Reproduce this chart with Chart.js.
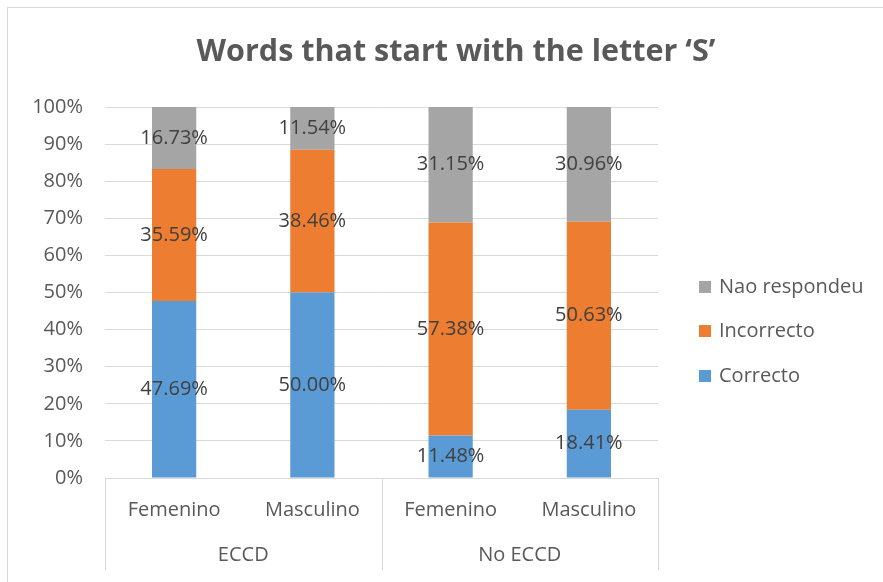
<!DOCTYPE html>
<html>
<head>
<meta charset="utf-8">
<script src="https://cdn.jsdelivr.net/npm/chart.js@4"></script>
<style>
  html, body { margin: 0; padding: 0; background: #fff; overflow: hidden; }
  canvas { display: block; }
</style>
</head>
<body>
<canvas id="wordsChart" width="883" height="582"></canvas>
<script>
// --- Data ---
const categories = ["Femenino", "Masculino", "Femenino", "Masculino"];
const groups = ["ECCD", "No ECCD"];
const seriesNames = ["Correcto", "Incorrecto", "Nao respondeu"];
const correcto = [47.69, 50.00, 11.48, 18.41];
const incorrecto = [35.59, 38.46, 57.38, 50.63];
const naoRespondeu = [16.73, 11.54, 31.15, 30.96];
const yTickStep = 10;

const colors = ["#5b9bd5", "#ed7d31", "#a5a5a5"];
const textColor = "#595959";
const lineColor = "#d9d9d9";
const fontFamily = "'Open Sans', 'Liberation Sans', sans-serif";

// --- Extra drawing: frame, title, data labels, group axis, legend ---
const decorations = {
  id: "decorations",
  beforeDraw(chart) {
    const c = chart.ctx;
    c.save();
    c.fillStyle = "#fff";
    c.fillRect(0, 0, chart.width, chart.height);
    c.strokeStyle = lineColor;
    c.lineWidth = 1;
    c.strokeRect(7.5, 7.5, 1000, 1000);
    c.restore();
  },
  afterDraw(chart) {
    const c = chart.ctx;
    const area = chart.chartArea;
    const x = chart.scales.x;
    c.save();

    // title
    c.fillStyle = textColor;
    c.font = "bold 30.5px " + fontFamily;
    c.textAlign = "center";
    c.textBaseline = "middle";
    c.fillText("Words that start with the letter \u2018S\u2019", 456, 52);

    // value labels in the middle of each segment
    c.font = "20px " + fontFamily;
    c.fillStyle = "#404040";
    chart.data.datasets.forEach((ds, i) => {
      chart.getDatasetMeta(i).data.forEach((bar, j) => {
        const yMid = (bar.y + bar.base) / 2;
        c.fillText(ds.data[j].toFixed(2) + "%", bar.x, yMid);
      });
    });

    // group separators and group names under the categories
    const half = (x.getPixelForValue(1) - x.getPixelForValue(0)) / 2;
    c.strokeStyle = lineColor;
    c.lineWidth = 1;
    const bounds = [area.left, x.getPixelForValue(1) + half, area.right];
    bounds.forEach(px => {
      const xx = Math.round(px) + 0.5;
      c.beginPath();
      c.moveTo(xx, area.bottom);
      c.lineTo(xx, 570);
      c.stroke();
    });
    c.fillStyle = textColor;
    c.font = "20px " + fontFamily;
    groups.forEach((g, i) => {
      c.fillText(g, (bounds[i] + bounds[i + 1]) / 2, 555);
    });

    // legend, top entry is the top of the stack
    const legendY = [287, 331, 376];
    c.textAlign = "left";
    seriesNames.slice().reverse().forEach((name, i) => {
      const col = colors[seriesNames.length - 1 - i];
      c.fillStyle = col;
      c.fillRect(699, legendY[i] - 6, 12, 12);
      c.fillStyle = textColor;
      c.fillText(name, 719, legendY[i]);
    });
    c.restore();
  }
};

const ctx = document.getElementById("wordsChart").getContext("2d");
const chart = new Chart(ctx, {
  type: "bar",
  data: {
    labels: categories,
    datasets: [
      { label: seriesNames[0], data: correcto, backgroundColor: colors[0] },
      { label: seriesNames[1], data: incorrecto, backgroundColor: colors[1] },
      { label: seriesNames[2], data: naoRespondeu, backgroundColor: colors[2] }
    ]
  },
  options: {
    responsive: false,
    animation: false,
    layout: { padding: { left: 0, right: 225, top: 107, bottom: 0 } },
    datasets: { bar: { barPercentage: 0.32, categoryPercentage: 1 } },
    plugins: {
      legend: { display: false },
      title: { display: false },
      tooltip: { enabled: false }
    },
    scales: {
      x: {
        stacked: true,
        grid: { display: false },
        border: { color: lineColor },
        ticks: {
          color: textColor,
          font: { family: fontFamily, size: 20 },
          padding: 12,
          maxRotation: 0
        },
        afterFit(scale) { scale.height = 104; }
      },
      y: {
        stacked: true,
        min: 0,
        max: 100,
        grid: { color: lineColor, drawTicks: false },
        border: { display: false },
        ticks: {
          stepSize: yTickStep,
          color: textColor,
          font: { family: fontFamily, size: 20 },
          padding: 22,
          callback: v => v + "%"
        },
        afterFit(scale) { scale.width = 105; }
      }
    }
  },
  plugins: [decorations]
});
</script>
</body>
</html>
